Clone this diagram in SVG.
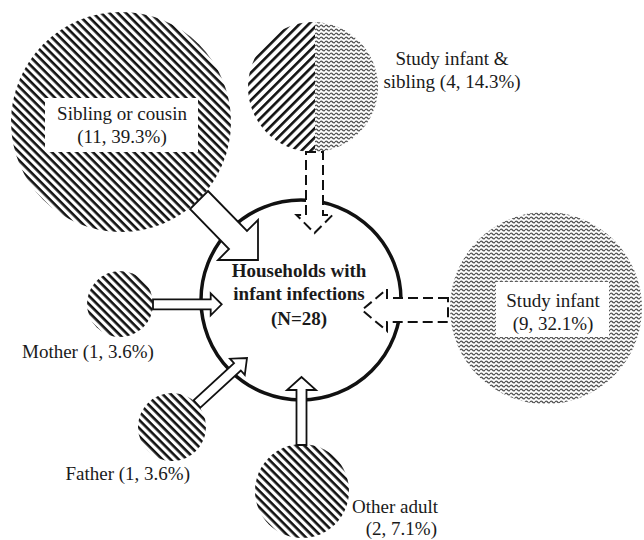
<svg xmlns="http://www.w3.org/2000/svg" width="644" height="540" viewBox="0 0 644 540">
<style>
  text { font-family: "Liberation Serif", "Times New Roman", serif; font-size: 19px; fill: #1a1a1a; }
  .bold { font-weight: bold; }
  .arrow { fill: #fff; stroke: #111; stroke-width: 1.8; stroke-linejoin: miter; }
  .dashed { fill: #fff; stroke: #111; stroke-width: 2; stroke-dasharray: 10 5; }
  .hub { fill: #fff; stroke: #111; stroke-width: 3.5; }
  .labelbox { fill: #fff; stroke: none; }
</style>
<defs>
  <pattern id="hatchBack" width="8" height="5.8" patternUnits="userSpaceOnUse" patternTransform="rotate(45)">
    <rect width="8" height="2.6" fill="#111"/>
  </pattern>
  <pattern id="hatchFwd" width="8" height="6.5" patternUnits="userSpaceOnUse" patternTransform="rotate(-45)">
    <rect width="8" height="2.6" fill="#111"/>
  </pattern>
  <pattern id="wave" width="5" height="4" patternUnits="userSpaceOnUse">
    <path d="M0,2 Q1.25,0.3 2.5,2 T5,2" fill="none" stroke="#555" stroke-width="1.3"/>
  </pattern>
  <clipPath id="leftHalf"><rect x="200" y="0" width="115" height="200"/></clipPath>
  <clipPath id="rightHalf"><rect x="315" y="0" width="100" height="200"/></clipPath>
</defs>

<g id="sibling">
  <circle cx="121" cy="122" r="110" fill="url(#hatchBack)"/>
  <rect class="labelbox" x="45" y="98" width="153" height="54"/>
  <text x="122" y="120" text-anchor="middle">Sibling or cousin</text>
  <text x="122" y="143" text-anchor="middle">(11, 39.3%)</text>
</g>

<g id="study-infant-sibling">
  <circle cx="313" cy="87" r="65" fill="url(#hatchFwd)" clip-path="url(#leftHalf)"/>
  <circle cx="313" cy="87" r="65" fill="url(#wave)" clip-path="url(#rightHalf)"/>
  <text x="452" y="65" text-anchor="middle">Study infant &amp;</text>
  <text x="452" y="88" text-anchor="middle">sibling (4, 14.3%)</text>
</g>

<g id="study-infant">
  <circle cx="546" cy="308" r="96" fill="url(#wave)"/>
  <rect class="labelbox" x="496" y="282" width="113" height="55"/>
  <text x="553" y="307" text-anchor="middle">Study infant</text>
  <text x="553" y="330" text-anchor="middle">(9, 32.1%)</text>
</g>

<g id="mother">
  <circle cx="120" cy="304" r="33" fill="url(#hatchBack)"/>
  <text x="22" y="358">Mother (1, 3.6%)</text>
</g>

<g id="father">
  <circle cx="172" cy="427" r="34" fill="url(#hatchBack)"/>
  <text x="190" y="480" text-anchor="end">Father (1, 3.6%)</text>
</g>

<g id="other-adult">
  <circle cx="302" cy="491" r="47" fill="url(#hatchBack)"/>
  <text x="352" y="513">Other adult</text>
  <text x="437" y="535" text-anchor="end">(2, 7.1%)</text>
</g>

<g id="households">
  <circle class="hub" cx="301" cy="300" r="100"/>
</g>

<g id="connectors">
  <polygon class="arrow" points="208,191 247,231 258,220 258,260 218,260 229,249 190,209"/>
  <polygon class="arrow" points="153,299.3 210.7,299.3 210.7,293.3 221.7,304.3 210.7,315.3 210.7,309.3 153,309.3"/>
  <polygon class="arrow" points="200.4,407.7 240.8,370.5 244.8,374.9 247,358 230,358.7 234,363.1 193.6,400.3"/>
  <polygon class="arrow" points="296.5,445 296.5,390 287,390 301.5,377 316,390 306.5,390 306.5,445"/>
  <polygon class="dashed" points="306,152 323,152 323,215 332.5,215 314.5,233 296.5,215 306,215"/>
  <polygon class="dashed" points="448,298 387,298 387,289 362,310 387,331 387,322 448,322"/>
</g>

<g id="households-label">
  <text class="bold" x="299" y="277" text-anchor="middle">Households with</text>
  <text class="bold" x="299" y="300" text-anchor="middle">infant infections</text>
  <text class="bold" x="299" y="325" text-anchor="middle">(N=28)</text>
</g>
</svg>
